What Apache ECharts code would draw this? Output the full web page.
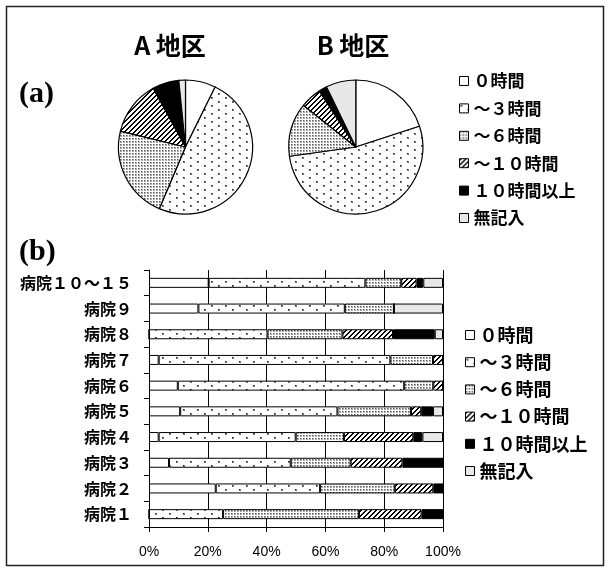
<!DOCTYPE html>
<html>
<head>
<meta charset="utf-8">
<script src="https://cdn.jsdelivr.net/npm/echarts@6/dist/echarts.min.js"></script>
<style>
  html, body { margin: 0; padding: 0; background: #fff; }
  #chart { width: 609px; height: 572px; }
</style>
</head>
<body>
<div id="chart"></div>
<script>
// 勤務時間の区分
const hoursLabels = ['０時間', '～３時間', '～６時間', '～１０時間', '１０時間以上', '無記入'];

// (a) 地区別の割合 (%)
const areaNames = ['A 地区', 'B 地区'];
const areaA = [7.3, 49.1, 22.4, 13.2, 6.4, 1.6];
const areaB = [20.0, 52.8, 12.9, 5.1, 2.0, 7.2];

// (b) 病院別の割合 (%)  — 下から 病院１ … 病院１０～１５
const hospitals = ['病院１', '病院２', '病院３', '病院４', '病院５', '病院６', '病院７', '病院８', '病院９', '病院１０～１５'];
const h0   = [0,    22.7, 6.8,  3.3,  10.6, 9.8,  3.3,  0,    16.8, 20.3];
const h3   = [25.2, 35.5, 41.4, 46.6, 53.5, 77.0, 78.8, 40.3, 49.8, 53.3];
const h6   = [46.2, 25.4, 20.4, 16.4, 25.0, 9.9,  14.5, 25.5, 16.7, 12.2];
const h10  = [21.3, 13.1, 17.6, 23.6, 3.5,  3.3,  3.4,  17.2, 0,    5.2];
const h10p = [7.3,  3.3,  13.8, 3.1,  4.0,  0,    0,    14.2, 0,    2.3];
const hNA  = [0,    0,    0,    7.0,  3.4,  0,    0,    2.8,  16.7, 6.7];
const barSeries = [h0, h3, h6, h10, h10p, hNA];

const xTicks = [0, 20, 40, 60, 80, 100];

// ---- fill patterns ----
function pattern(w, h, draw) {
  const c = document.createElement('canvas');
  c.width = w; c.height = h;
  const ctx = c.getContext('2d');
  draw(ctx, w, h);
  return { image: c, repeat: 'repeat' };
}
const fillWhite = '#ffffff';
const fillSparseDots = pattern(14, 8, (ctx, w, h) => {
  ctx.fillStyle = '#fff'; ctx.fillRect(0, 0, w, h);
  ctx.fillStyle = '#777';
  ctx.fillRect(1, 1, 2, 2);
  ctx.fillRect(8, 5, 2, 2);
  ctx.fillStyle = '#222';
  ctx.fillRect(1, 1, 1, 1);
  ctx.fillRect(8, 5, 1, 1);
});
const fillDenseDots = pattern(3, 3, (ctx, w, h) => {
  ctx.fillStyle = '#fff'; ctx.fillRect(0, 0, w, h);
  ctx.fillStyle = '#aaa'; ctx.fillRect(0, 0, 2, 2);
  ctx.fillStyle = '#555'; ctx.fillRect(0, 0, 1, 1);
});
const fillHatch = pattern(5, 5, (ctx, w, h) => {
  ctx.fillStyle = '#fff'; ctx.fillRect(0, 0, w, h);
  ctx.fillStyle = '#000';
  for (let x = 0; x < w; x++) {
    for (let y = 0; y < h; y++) {
      if ((x + y) % w < 2) ctx.fillRect(x, y, 1, 1);
    }
  }
});
const fills = [fillWhite, fillSparseDots, fillDenseDots, fillHatch, '#000000', '#e8e8e8'];

const jpFont = "'Noto Sans CJK JP', 'Noto Sans', sans-serif";

function pieData(values) {
  return values.map((v, i) => ({ name: hoursLabels[i], value: v, itemStyle: { color: fills[i] } }));
}

const pieCommon = {
  type: 'pie',
  radius: 67,
  startAngle: 90,
  clockwise: true,
  label: { show: false },
  labelLine: { show: false },
  silent: true,
  itemStyle: { borderColor: '#000', borderWidth: 1.2 }
};

const legendCommon = {
  orient: 'vertical',
  padding: 0,
  itemWidth: 9,
  itemHeight: 9,
  icon: 'rect',
  selectedMode: false,
  data: hoursLabels,
  itemStyle: { borderColor: '#000', borderWidth: 1 },
  textStyle: { fontFamily: jpFont, fontWeight: 'bold', color: '#000', lineHeight: 20 }
};

const chart = echarts.init(document.getElementById('chart'), null, { renderer: 'canvas' });
chart.setOption({
  animation: false,
  backgroundColor: '#fff',
  graphic: [
    { type: 'rect', shape: { x: 6.5, y: 6.5, width: 597, height: 559 },
      style: { fill: 'none', stroke: '#222', lineWidth: 1.5 }, silent: true },
    { type: 'text', x: 170, y: 45, silent: true,
      style: { text: areaNames[0], font: "bold 25px " + jpFont, fill: '#000', align: 'center', verticalAlign: 'middle' } },
    { type: 'text', x: 353, y: 45, silent: true,
      style: { text: areaNames[1], font: "bold 25px " + jpFont, fill: '#000', align: 'center', verticalAlign: 'middle' } },
    { type: 'text', x: 19, y: 94, silent: true,
      style: { text: '(a)', font: "bold 30px 'Liberation Serif', serif", fill: '#000', align: 'left', verticalAlign: 'middle' } },
    { type: 'text', x: 19, y: 252, silent: true,
      style: { text: '(b)', font: "bold 30px 'Liberation Serif', serif", fill: '#000', align: 'left', verticalAlign: 'middle' } }
  ],
  legend: [
    Object.assign({}, legendCommon, {
      top: 71, left: 459, itemGap: 7.4,
      textStyle: Object.assign({}, legendCommon.textStyle, { fontSize: 17 })
    }),
    Object.assign({}, legendCommon, {
      top: 325, left: 465, itemGap: 7.2,
      textStyle: Object.assign({}, legendCommon.textStyle, { fontSize: 18 })
    })
  ],
  grid: { left: 149, right: 166, top: 270, bottom: 45 },
  xAxis: {
    type: 'value',
    min: xTicks[0],
    max: xTicks[xTicks.length - 1],
    interval: 20,
    axisLine: { show: true, lineStyle: { color: '#000', width: 1 } },
    axisTick: { show: true, inside: false, length: 5, lineStyle: { color: '#000' } },
    splitLine: { show: true, lineStyle: { color: '#000', width: 1 } },
    axisLabel: { formatter: '{value}%', margin: 18, fontSize: 14, color: '#000',
                 fontFamily: "'Liberation Sans', sans-serif" }
  },
  yAxis: {
    type: 'category',
    data: hospitals,
    axisLine: { show: true, lineStyle: { color: '#000', width: 1 } },
    axisTick: { show: true, inside: false, length: 5, lineStyle: { color: '#000' } },
    splitLine: { show: false },
    axisLabel: { margin: 17, fontSize: 16, fontWeight: 'bold', color: '#000', fontFamily: jpFont }
  },
  series: [
    Object.assign({}, pieCommon, { name: areaNames[0], center: [185.5, 147], data: pieData(areaA) }),
    Object.assign({}, pieCommon, { name: areaNames[1], center: [355.8, 147], data: pieData(areaB) })
  ].concat(barSeries.map((vals, i) => ({
    name: hoursLabels[i],
    type: 'bar',
    stack: 'total',
    barWidth: 10,
    silent: true,
    data: vals,
    itemStyle: { color: fills[i], borderColor: '#000', borderWidth: 1 }
  })))
});
</script>
</body>
</html>
